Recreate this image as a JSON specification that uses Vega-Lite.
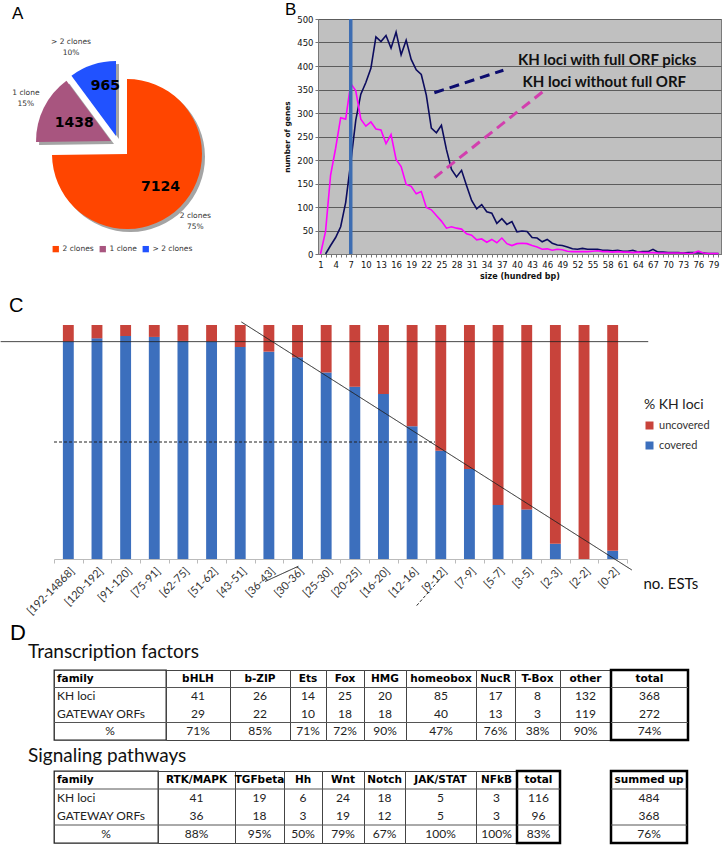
{
"$schema":"https://vega.github.io/schema/vega-lite/v6.json",
"background":"white",
"padding":0,
"autosize":{"type":"pad"},
"bounds":"full",
"spacing":0,
"resolve":{"scale":{"color":"independent","fill":"independent","stroke":"independent","opacity":"independent","strokeDash":"independent","theta":"independent"},"legend":{"color":"independent","fill":"independent"}},
"config":{"view":{"stroke":"#444","strokeWidth":1},"title":{"font":"Liberation Sans","fontWeight":"normal","color":"#000","anchor":"start","frame":"group","baseline":"alphabetic"}},
"data":{"name":"cells"},
"datasets":{
"pie":[{"cat":"2 clones","n":7124,"pct":"75%"},{"cat":"1 clone","n":1438,"pct":"15%"},{"cat":"> 2 clones","n":965,"pct":"10%"}],
"sizes":[
{"size":2,"series":"with full ORF","genes":0},{"size":3,"series":"with full ORF","genes":18},{"size":4,"series":"with full ORF","genes":35},{"size":5,"series":"with full ORF","genes":58},{"size":6,"series":"with full ORF","genes":110},{"size":7,"series":"with full ORF","genes":195},{"size":8,"series":"with full ORF","genes":285},{"size":9,"series":"with full ORF","genes":340},{"size":10,"series":"with full ORF","genes":365},{"size":11,"series":"with full ORF","genes":395},{"size":12,"series":"with full ORF","genes":462},{"size":13,"series":"with full ORF","genes":452},{"size":14,"series":"with full ORF","genes":465},{"size":15,"series":"with full ORF","genes":438},{"size":16,"series":"with full ORF","genes":472},{"size":17,"series":"with full ORF","genes":424},{"size":18,"series":"with full ORF","genes":455},{"size":19,"series":"with full ORF","genes":414},{"size":20,"series":"with full ORF","genes":392},{"size":21,"series":"with full ORF","genes":382},{"size":22,"series":"with full ORF","genes":338},{"size":23,"series":"with full ORF","genes":268},{"size":24,"series":"with full ORF","genes":258},{"size":25,"series":"with full ORF","genes":274},{"size":26,"series":"with full ORF","genes":222},{"size":27,"series":"with full ORF","genes":180},{"size":28,"series":"with full ORF","genes":164},{"size":29,"series":"with full ORF","genes":178},{"size":30,"series":"with full ORF","genes":145},{"size":31,"series":"with full ORF","genes":114},{"size":32,"series":"with full ORF","genes":96},{"size":33,"series":"with full ORF","genes":105},{"size":34,"series":"with full ORF","genes":90},{"size":35,"series":"with full ORF","genes":87},{"size":36,"series":"with full ORF","genes":65},{"size":37,"series":"with full ORF","genes":75},{"size":38,"series":"with full ORF","genes":63},{"size":39,"series":"with full ORF","genes":69},{"size":40,"series":"with full ORF","genes":47},{"size":41,"series":"with full ORF","genes":49},{"size":42,"series":"with full ORF","genes":48},{"size":43,"series":"with full ORF","genes":35},{"size":44,"series":"with full ORF","genes":34},{"size":45,"series":"with full ORF","genes":26},{"size":46,"series":"with full ORF","genes":31},{"size":47,"series":"with full ORF","genes":23},{"size":48,"series":"with full ORF","genes":19},{"size":49,"series":"with full ORF","genes":18},{"size":50,"series":"with full ORF","genes":15},{"size":51,"series":"with full ORF","genes":11},{"size":52,"series":"with full ORF","genes":10},{"size":53,"series":"with full ORF","genes":12},{"size":54,"series":"with full ORF","genes":10},{"size":55,"series":"with full ORF","genes":10},{"size":56,"series":"with full ORF","genes":10},{"size":57,"series":"with full ORF","genes":8},{"size":58,"series":"with full ORF","genes":8},{"size":59,"series":"with full ORF","genes":7},{"size":60,"series":"with full ORF","genes":8},{"size":61,"series":"with full ORF","genes":6},{"size":62,"series":"with full ORF","genes":6},{"size":63,"series":"with full ORF","genes":8},{"size":64,"series":"with full ORF","genes":4},{"size":65,"series":"with full ORF","genes":5},{"size":66,"series":"with full ORF","genes":5},{"size":67,"series":"with full ORF","genes":10},{"size":68,"series":"with full ORF","genes":4},{"size":69,"series":"with full ORF","genes":4},{"size":70,"series":"with full ORF","genes":3},{"size":71,"series":"with full ORF","genes":3},{"size":72,"series":"with full ORF","genes":3},{"size":73,"series":"with full ORF","genes":2},{"size":74,"series":"with full ORF","genes":3},{"size":75,"series":"with full ORF","genes":3},{"size":76,"series":"with full ORF","genes":2},{"size":77,"series":"with full ORF","genes":2},{"size":78,"series":"with full ORF","genes":1},{"size":79,"series":"with full ORF","genes":1},{"size":80,"series":"with full ORF","genes":1},
{"size":1,"series":"without full ORF","genes":0},{"size":2,"series":"without full ORF","genes":48},{"size":3,"series":"without full ORF","genes":168},{"size":4,"series":"without full ORF","genes":225},{"size":5,"series":"without full ORF","genes":290},{"size":6,"series":"without full ORF","genes":287},{"size":7,"series":"without full ORF","genes":363},{"size":8,"series":"without full ORF","genes":347},{"size":9,"series":"without full ORF","genes":287},{"size":10,"series":"without full ORF","genes":272},{"size":11,"series":"without full ORF","genes":281},{"size":12,"series":"without full ORF","genes":266},{"size":13,"series":"without full ORF","genes":264},{"size":14,"series":"without full ORF","genes":235},{"size":15,"series":"without full ORF","genes":254},{"size":16,"series":"without full ORF","genes":201},{"size":17,"series":"without full ORF","genes":186},{"size":18,"series":"without full ORF","genes":148},{"size":19,"series":"without full ORF","genes":144},{"size":20,"series":"without full ORF","genes":128},{"size":21,"series":"without full ORF","genes":133},{"size":22,"series":"without full ORF","genes":99},{"size":23,"series":"without full ORF","genes":94},{"size":24,"series":"without full ORF","genes":82},{"size":25,"series":"without full ORF","genes":70},{"size":26,"series":"without full ORF","genes":55},{"size":27,"series":"without full ORF","genes":58},{"size":28,"series":"without full ORF","genes":55},{"size":29,"series":"without full ORF","genes":53},{"size":30,"series":"without full ORF","genes":43},{"size":31,"series":"without full ORF","genes":40},{"size":32,"series":"without full ORF","genes":30},{"size":33,"series":"without full ORF","genes":32},{"size":34,"series":"without full ORF","genes":25},{"size":35,"series":"without full ORF","genes":31},{"size":36,"series":"without full ORF","genes":24},{"size":37,"series":"without full ORF","genes":34},{"size":38,"series":"without full ORF","genes":22},{"size":39,"series":"without full ORF","genes":18},{"size":40,"series":"without full ORF","genes":22},{"size":41,"series":"without full ORF","genes":23},{"size":42,"series":"without full ORF","genes":22},{"size":43,"series":"without full ORF","genes":18},{"size":44,"series":"without full ORF","genes":15},{"size":45,"series":"without full ORF","genes":10},{"size":46,"series":"without full ORF","genes":11},{"size":47,"series":"without full ORF","genes":8},{"size":48,"series":"without full ORF","genes":10},{"size":49,"series":"without full ORF","genes":9},{"size":50,"series":"without full ORF","genes":6},{"size":51,"series":"without full ORF","genes":5},{"size":52,"series":"without full ORF","genes":5},{"size":53,"series":"without full ORF","genes":5},{"size":54,"series":"without full ORF","genes":5},{"size":55,"series":"without full ORF","genes":6},{"size":56,"series":"without full ORF","genes":7},{"size":57,"series":"without full ORF","genes":5},{"size":58,"series":"without full ORF","genes":5},{"size":59,"series":"without full ORF","genes":4},{"size":60,"series":"without full ORF","genes":5},{"size":61,"series":"without full ORF","genes":4},{"size":62,"series":"without full ORF","genes":4},{"size":63,"series":"without full ORF","genes":3},{"size":64,"series":"without full ORF","genes":4},{"size":65,"series":"without full ORF","genes":3},{"size":66,"series":"without full ORF","genes":3},{"size":67,"series":"without full ORF","genes":3},{"size":68,"series":"without full ORF","genes":2},{"size":69,"series":"without full ORF","genes":2},{"size":70,"series":"without full ORF","genes":2},{"size":71,"series":"without full ORF","genes":2},{"size":72,"series":"without full ORF","genes":2},{"size":73,"series":"without full ORF","genes":2},{"size":74,"series":"without full ORF","genes":1},{"size":75,"series":"without full ORF","genes":2},{"size":76,"series":"without full ORF","genes":6},{"size":77,"series":"without full ORF","genes":2},{"size":78,"series":"without full ORF","genes":1},{"size":79,"series":"without full ORF","genes":1},{"size":80,"series":"without full ORF","genes":1}
],
"bdash":[{"series":"with full ORF","size":23.6,"genes":343,"size2":37.3,"genes2":391},{"series":"without full ORF","size":23.6,"genes":162,"size2":45.2,"genes2":346}],
"btext":[{"label":"KH loci with full ORF picks","size":40.2,"genes":413},{"label":"KH loci without full ORF","size":41.1,"genes":367}],
"bmark":[{"label":"cut-off","size":7,"genes":0,"genes2":500}],
"cov":[
{"ests":"[192-14868]","status":"covered","pct":92.9},{"ests":"[192-14868]","status":"uncovered","pct":7.1},
{"ests":"[120-192]","status":"covered","pct":94.3},{"ests":"[120-192]","status":"uncovered","pct":5.7},
{"ests":"[91-120]","status":"covered","pct":95.3},{"ests":"[91-120]","status":"uncovered","pct":4.7},
{"ests":"[75-91]","status":"covered","pct":94.9},{"ests":"[75-91]","status":"uncovered","pct":5.1},
{"ests":"[62-75]","status":"covered","pct":93.2},{"ests":"[62-75]","status":"uncovered","pct":6.8},
{"ests":"[51-62]","status":"covered","pct":92.9},{"ests":"[51-62]","status":"uncovered","pct":7.1},
{"ests":"[43-51]","status":"covered","pct":90.6},{"ests":"[43-51]","status":"uncovered","pct":9.4},
{"ests":"[36-43]","status":"covered","pct":88.6},{"ests":"[36-43]","status":"uncovered","pct":11.4},
{"ests":"[30-36]","status":"covered","pct":86.2},{"ests":"[30-36]","status":"uncovered","pct":13.8},
{"ests":"[25-30]","status":"covered","pct":79.7},{"ests":"[25-30]","status":"uncovered","pct":20.3},
{"ests":"[20-25]","status":"covered","pct":73.6},{"ests":"[20-25]","status":"uncovered","pct":26.4},
{"ests":"[16-20]","status":"covered","pct":70.5},{"ests":"[16-20]","status":"uncovered","pct":29.5},
{"ests":"[12-16]","status":"covered","pct":56.7},{"ests":"[12-16]","status":"uncovered","pct":43.3},
{"ests":"[9-12]","status":"covered","pct":46.3},{"ests":"[9-12]","status":"uncovered","pct":53.7},
{"ests":"[7-9]","status":"covered","pct":38.5},{"ests":"[7-9]","status":"uncovered","pct":61.5},
{"ests":"[5-7]","status":"covered","pct":23.1},{"ests":"[5-7]","status":"uncovered","pct":76.9},
{"ests":"[3-5]","status":"covered","pct":21.2},{"ests":"[3-5]","status":"uncovered","pct":78.8},
{"ests":"[2-3]","status":"covered","pct":6.5},{"ests":"[2-3]","status":"uncovered","pct":93.5},
{"ests":"[2-2]","status":"covered","pct":0},{"ests":"[2-2]","status":"uncovered","pct":100},
{"ests":"[0-2]","status":"covered","pct":3.5},{"ests":"[0-2]","status":"uncovered","pct":96.5}
],
"clines":[{"line":"diagonal","style":"solid","x":6.54,"y":101.3,"x2":20.17,"y2":-4.7},{"line":"93% level","style":"solid","x":-1.86,"y":92.9,"x2":20.74,"y2":92.9},{"line":"50% level","style":"dashed","x":0,"y":50,"x2":13.3,"y2":50},{"line":"[30-36] mark","style":"solid","x":7.37,"y":-9.6,"x2":8.53,"y2":-3.1},{"line":"[9-12] mark","style":"dashed","x":12.66,"y":-19.9,"x2":13.48,"y2":-8.5}],
"cells":[
{"t":"TF","col":"family","r":"h","v":"family"},{"t":"TF","col":"family","r":"kh","v":"KH loci"},{"t":"TF","col":"family","r":"gw","v":"GATEWAY ORFs"},{"t":"TF","col":"family","r":"pct","v":"%"},
{"t":"TF","col":"bHLH","r":"h","v":"bHLH"},{"t":"TF","col":"bHLH","r":"kh","v":"41"},{"t":"TF","col":"bHLH","r":"gw","v":"29"},{"t":"TF","col":"bHLH","r":"pct","v":"71%"},
{"t":"TF","col":"b-ZIP","r":"h","v":"b-ZIP"},{"t":"TF","col":"b-ZIP","r":"kh","v":"26"},{"t":"TF","col":"b-ZIP","r":"gw","v":"22"},{"t":"TF","col":"b-ZIP","r":"pct","v":"85%"},
{"t":"TF","col":"Ets","r":"h","v":"Ets"},{"t":"TF","col":"Ets","r":"kh","v":"14"},{"t":"TF","col":"Ets","r":"gw","v":"10"},{"t":"TF","col":"Ets","r":"pct","v":"71%"},
{"t":"TF","col":"Fox","r":"h","v":"Fox"},{"t":"TF","col":"Fox","r":"kh","v":"25"},{"t":"TF","col":"Fox","r":"gw","v":"18"},{"t":"TF","col":"Fox","r":"pct","v":"72%"},
{"t":"TF","col":"HMG","r":"h","v":"HMG"},{"t":"TF","col":"HMG","r":"kh","v":"20"},{"t":"TF","col":"HMG","r":"gw","v":"18"},{"t":"TF","col":"HMG","r":"pct","v":"90%"},
{"t":"TF","col":"homeobox","r":"h","v":"homeobox"},{"t":"TF","col":"homeobox","r":"kh","v":"85"},{"t":"TF","col":"homeobox","r":"gw","v":"40"},{"t":"TF","col":"homeobox","r":"pct","v":"47%"},
{"t":"TF","col":"NucR","r":"h","v":"NucR"},{"t":"TF","col":"NucR","r":"kh","v":"17"},{"t":"TF","col":"NucR","r":"gw","v":"13"},{"t":"TF","col":"NucR","r":"pct","v":"76%"},
{"t":"TF","col":"T-Box","r":"h","v":"T-Box"},{"t":"TF","col":"T-Box","r":"kh","v":"8"},{"t":"TF","col":"T-Box","r":"gw","v":"3"},{"t":"TF","col":"T-Box","r":"pct","v":"38%"},
{"t":"TF","col":"other","r":"h","v":"other"},{"t":"TF","col":"other","r":"kh","v":"132"},{"t":"TF","col":"other","r":"gw","v":"119"},{"t":"TF","col":"other","r":"pct","v":"90%"},
{"t":"TF","col":"total","r":"h","v":"total"},{"t":"TF","col":"total","r":"kh","v":"368"},{"t":"TF","col":"total","r":"gw","v":"272"},{"t":"TF","col":"total","r":"pct","v":"74%"},
{"t":"SP","col":"family","r":"h","v":"family"},{"t":"SP","col":"family","r":"kh","v":"KH loci"},{"t":"SP","col":"family","r":"gw","v":"GATEWAY ORFs"},{"t":"SP","col":"family","r":"pct","v":"%"},
{"t":"SP","col":"RTK/MAPK","r":"h","v":"RTK/MAPK"},{"t":"SP","col":"RTK/MAPK","r":"kh","v":"41"},{"t":"SP","col":"RTK/MAPK","r":"gw","v":"36"},{"t":"SP","col":"RTK/MAPK","r":"pct","v":"88%"},
{"t":"SP","col":"TGFbeta","r":"h","v":"TGFbeta"},{"t":"SP","col":"TGFbeta","r":"kh","v":"19"},{"t":"SP","col":"TGFbeta","r":"gw","v":"18"},{"t":"SP","col":"TGFbeta","r":"pct","v":"95%"},
{"t":"SP","col":"Hh","r":"h","v":"Hh"},{"t":"SP","col":"Hh","r":"kh","v":"6"},{"t":"SP","col":"Hh","r":"gw","v":"3"},{"t":"SP","col":"Hh","r":"pct","v":"50%"},
{"t":"SP","col":"Wnt","r":"h","v":"Wnt"},{"t":"SP","col":"Wnt","r":"kh","v":"24"},{"t":"SP","col":"Wnt","r":"gw","v":"19"},{"t":"SP","col":"Wnt","r":"pct","v":"79%"},
{"t":"SP","col":"Notch","r":"h","v":"Notch"},{"t":"SP","col":"Notch","r":"kh","v":"18"},{"t":"SP","col":"Notch","r":"gw","v":"12"},{"t":"SP","col":"Notch","r":"pct","v":"67%"},
{"t":"SP","col":"JAK/STAT","r":"h","v":"JAK/STAT"},{"t":"SP","col":"JAK/STAT","r":"kh","v":"5"},{"t":"SP","col":"JAK/STAT","r":"gw","v":"5"},{"t":"SP","col":"JAK/STAT","r":"pct","v":"100%"},
{"t":"SP","col":"NFkB","r":"h","v":"NFkB"},{"t":"SP","col":"NFkB","r":"kh","v":"3"},{"t":"SP","col":"NFkB","r":"gw","v":"3"},{"t":"SP","col":"NFkB","r":"pct","v":"100%"},
{"t":"SP","col":"total","r":"h","v":"total"},{"t":"SP","col":"total","r":"kh","v":"116"},{"t":"SP","col":"total","r":"gw","v":"96"},{"t":"SP","col":"total","r":"pct","v":"83%"},
{"t":"SUM","col":"summed up","r":"h","v":"summed up"},{"t":"SUM","col":"summed up","r":"kh","v":"484"},{"t":"SUM","col":"summed up","r":"gw","v":"368"},{"t":"SUM","col":"summed up","r":"pct","v":"76%"}
]
},
"vconcat":[
{"bounds":"flush","spacing":0,"hconcat":[
 {"width":54,"height":277,"view":{"stroke":null},"data":{"values":[]},"mark":"point"},
 {"width":146,"height":270,"view":{"stroke":null},
  "title":{"text":"A","dx":-42,"offset":-4,"fontSize":17},
  "data":{"name":"pie"},
  "encoding":{"theta":{"field":"n","type":"quantitative","stack":true},"order":{"field":"n","type":"quantitative","sort":"descending"}},
  "layer":[
   {"mark":{"type":"arc","radius":75,"fill":"#a4a4a4","xOffset":3,"yOffset":3},"encoding":{"opacity":{"condition":{"test":"datum.cat == '2 clones'","value":1},"value":0}}},
   {"mark":{"type":"arc","radius":75,"fill":"#a4a4a4","xOffset":-13,"yOffset":-10},"encoding":{"opacity":{"condition":{"test":"datum.cat == '1 clone'","value":1},"value":0}}},
   {"mark":{"type":"arc","radius":75,"fill":"#a4a4a4","xOffset":-8,"yOffset":-15},"encoding":{"opacity":{"condition":{"test":"datum.cat == '> 2 clones'","value":1},"value":0}}},
   {"mark":{"type":"arc","radius":75},"encoding":{"fill":{"field":"cat","type":"nominal","scale":{"domain":["2 clones","1 clone","> 2 clones"],"range":["#ff4500","#a8557f","#2152ff"]},"legend":{"orient":"none","legendX":52,"legendY":226,"direction":"horizontal","title":null,"symbolType":"square","symbolSize":40,"symbolOpacity":1,"symbolStrokeWidth":0,"labelFont":"DejaVu Sans","labelFontSize":7.5,"labelColor":"#333","columnPadding":5,"labelOffset":3}},"opacity":{"condition":{"test":"datum.cat == '2 clones'","value":1},"value":0}}},
   {"mark":{"type":"arc","radius":75,"xOffset":-16,"yOffset":-13},"encoding":{"fill":{"field":"cat","type":"nominal","legend":null},"opacity":{"condition":{"test":"datum.cat == '1 clone'","value":1},"value":0}}},
   {"mark":{"type":"arc","radius":75,"xOffset":-11,"yOffset":-18},"encoding":{"fill":{"field":"cat","type":"nominal","legend":null},"opacity":{"condition":{"test":"datum.cat == '> 2 clones'","value":1},"value":0}}},
   {"mark":{"type":"text","radius":47,"font":"DejaVu Sans","fontWeight":"bold","fontSize":14,"color":"#000"},"encoding":{"text":{"field":"n","type":"nominal"},"opacity":{"condition":{"test":"datum.cat == '2 clones'","value":1},"value":0}}},
   {"mark":{"type":"text","radius":41,"dx":-16,"dy":-13,"font":"DejaVu Sans","fontWeight":"bold","fontSize":14,"color":"#000"},"encoding":{"text":{"field":"n","type":"nominal"},"opacity":{"condition":{"test":"datum.cat == '1 clone'","value":1},"value":0}}},
   {"mark":{"type":"text","radius":53,"dx":-5,"dy":-18,"font":"DejaVu Sans","fontWeight":"bold","fontSize":14,"color":"#000"},"encoding":{"text":{"field":"n","type":"nominal"},"opacity":{"condition":{"test":"datum.cat == '> 2 clones'","value":1},"value":0}}},
   {"mark":{"type":"text","radius":96,"dy":-5.5,"font":"DejaVu Sans","fontSize":7.5,"color":"#333"},"encoding":{"text":{"field":"cat"},"opacity":{"condition":{"test":"datum.cat == '2 clones'","value":1},"value":0}}},
   {"mark":{"type":"text","radius":96,"dy":5.5,"font":"DejaVu Sans","fontSize":7.5,"color":"#333"},"encoding":{"text":{"field":"pct"},"opacity":{"condition":{"test":"datum.cat == '2 clones'","value":1},"value":0}}},
   {"mark":{"type":"text","radius":95,"dx":-16,"dy":-18.5,"font":"DejaVu Sans","fontSize":7.5,"color":"#333"},"encoding":{"text":{"field":"cat"},"opacity":{"condition":{"test":"datum.cat == '1 clone'","value":1},"value":0}}},
   {"mark":{"type":"text","radius":95,"dx":-16,"dy":-7.5,"font":"DejaVu Sans","fontSize":7.5,"color":"#333"},"encoding":{"text":{"field":"pct"},"opacity":{"condition":{"test":"datum.cat == '1 clone'","value":1},"value":0}}},
   {"mark":{"type":"text","radius":96,"dx":-26,"dy":-20.5,"font":"DejaVu Sans","fontSize":7.5,"color":"#333"},"encoding":{"text":{"field":"cat"},"opacity":{"condition":{"test":"datum.cat == '> 2 clones'","value":1},"value":0}}},
   {"mark":{"type":"text","radius":96,"dx":-26,"dy":-9.5,"font":"DejaVu Sans","fontSize":7.5,"color":"#333"},"encoding":{"text":{"field":"pct"},"opacity":{"condition":{"test":"datum.cat == '> 2 clones'","value":1},"value":0}}}
  ]},
 {"width":118,"height":1,"view":{"stroke":null},"data":{"values":[]},"mark":"point"},
 {"width":403,"height":235,"view":{"fill":"#c0c0c0","stroke":"#7a7a7a"},
  "title":{"text":"B","dx":-33,"offset":-4,"fontSize":17},
  "encoding":{
   "x":{"field":"size","type":"quantitative","scale":{"domain":[0.5,80.5],"nice":false,"zero":false},"axis":{"title":"size (hundred bp)","titleFont":"DejaVu Sans","titleFontSize":8,"titleFontWeight":"bold","titleColor":"#111","titlePadding":4,"tickCount":80,"labelExpr":"(datum.value - 1) % 3 == 0 ? datum.label : ''","labelFont":"DejaVu Sans","labelFontSize":8.5,"labelColor":"#111","labelPadding":3,"labelOverlap":false,"labelFlush":false,"tickSize":3,"tickColor":"#777","domainColor":"#777","grid":false}},
   "y":{"field":"genes","type":"quantitative","scale":{"domain":[0,500],"nice":false},"axis":{"title":"number of genes","titleFont":"DejaVu Sans","titleFontSize":7.5,"titleFontWeight":"bold","titleColor":"#111","titlePadding":5,"values":[0,50,100,150,200,250,300,350,400,450,500],"labelFont":"DejaVu Sans","labelFontSize":8.5,"labelColor":"#111","labelPadding":2,"tickSize":3,"tickColor":"#777","domainColor":"#777","grid":true,"gridColor":"#5c5c5c","gridWidth":1}}
  },
  "layer":[
   {"data":{"name":"sizes"},"mark":{"type":"line","strokeWidth":1.6},"encoding":{
    "color":{"field":"series","type":"nominal","scale":{"domain":["with full ORF","without full ORF"],"range":["#0c0c5e","#ff00ff"]},"legend":null}}},
   {"data":{"name":"bdash"},"mark":{"type":"rule","strokeWidth":3,"strokeDash":[10,6]},"encoding":{
    "x2":{"field":"size2"},"y2":{"field":"genes2"},
    "stroke":{"field":"series","type":"nominal","scale":{"domain":["with full ORF","without full ORF"],"range":["#0c0c6e","#d23fae"]},"legend":null}}},
   {"data":{"name":"btext"},"mark":{"type":"text","align":"left","baseline":"middle","font":"Lato","fontWeight":"bold","fontSize":15,"color":"#111"},"encoding":{
    "text":{"field":"label"}}},
   {"data":{"name":"bmark"},"mark":{"type":"rule","color":"#3d6db2","strokeWidth":3.5},"encoding":{"y2":{"field":"genes2"}}}
  ]}
]},
{"bounds":"flush","spacing":0,"hconcat":[
 {"width":54,"height":296,"view":{"stroke":null},"data":{"values":[]},"mark":"point"},
 {"width":573,"height":234,"view":{"stroke":null},
  "title":{"text":"C","dx":-45,"offset":5,"fontSize":20},
  "layer":[
   {"data":{"name":"cov"},"mark":{"type":"bar","width":{"band":0.38}},"encoding":{
    "x":{"field":"ests","type":"nominal","sort":null,"scale":{"paddingInner":0,"paddingOuter":0},"axis":{"title":"no. ESTs","titleX":589,"titleY":24,"titleAngle":0,"titleAlign":"left","titleBaseline":"middle","titleFont":"Lato","titleFontSize":15,"titleFontWeight":"normal","titleColor":"#111","labelAngle":-45,"labelFont":"Lato","labelFontSize":11,"labelColor":"#333","tickBand":"extent","tickSize":4,"domainColor":"#bbb","tickColor":"#bbb","labelPadding":2}},
    "y":{"field":"pct","type":"quantitative","stack":"zero","scale":{"domain":[0,100],"nice":false},"axis":{"values":[0,10,20,30,40,50,60,70,80,90,100],"labelExpr":"datum.value + '%'","title":null,"grid":true,"gridColor":"#dedede","domainColor":"#bbb","tickColor":"#bbb","tickSize":4,"labelFont":"Lato","labelFontSize":11,"labelColor":"#333","labelPadding":3}},
    "order":{"field":"status","type":"nominal","sort":"ascending"},
    "color":{"field":"status","type":"nominal","scale":{"domain":["covered","uncovered"],"range":["#3c6fbd","#c8433b"]},"legend":{"values":["uncovered","covered"],"orient":"none","legendX":644,"legendY":73,"title":"% KH loci","titleFont":"Lato","titleFontSize":14,"titleFontWeight":"normal","titleColor":"#222","titlePadding":8,"labelFont":"Lato","labelFontSize":11,"labelColor":"#333","symbolType":"square","symbolSize":64,"symbolStrokeWidth":0,"rowPadding":8}}}},
   {"data":{"name":"clines"},"mark":{"type":"rule","color":"#222","strokeWidth":1,"clip":false},"encoding":{
    "x":{"field":"x","type":"quantitative","scale":{"domain":[0,20],"nice":false,"zero":false},"axis":null},"x2":{"field":"x2"},
    "y":{"field":"y","type":"quantitative","scale":{"domain":[0,100],"nice":false},"axis":null},"y2":{"field":"y2"},
    "strokeDash":{"field":"style","type":"nominal","scale":{"domain":["solid","dashed"],"range":[[1,0],[3,2]]},"legend":null}}}
  ],
  "resolve":{"scale":{"x":"independent"}}}
]},
{"bounds":"flush","spacing":0,"hconcat":[
 {"width":54,"height":75.3,"view":{"stroke":null},"data":{"values":[]},"mark":"point"},
 {"width":112,"height":70,"view":{"stroke":"#222","strokeWidth":1.3},"title":{"text":"D","dx":-44,"offset":24.6,"fontSize":22},"transform":[{"filter":"datum.t=='TF'&&datum.col=='family'"}],"encoding":{"y":{"field":"r","type":"nominal","scale":{"type":"band","domain":["h","kh","gw","pct"],"paddingInner":0,"paddingOuter":0},"axis":null}},"layer":[
  {"transform":[{"filter":"datum.r=='kh'||datum.r=='pct'"}],"mark":{"type":"rule","color":"#555"},"encoding":{"y":{"field":"r","type":"nominal","bandPosition":0,"scale":{"type":"band","domain":["h","kh","gw","pct"],"paddingInner":0,"paddingOuter":0},"axis":null}}},
  {"transform":[{"filter":"datum.r=='h'"}],"mark":{"type":"text","align":"left","dx":-53,"font":"DejaVu Sans","fontWeight":"bold","fontSize":10.5,"color":"#000"},"encoding":{"text":{"field":"v"}}},
  {"transform":[{"filter":"datum.r=='kh'||datum.r=='gw'"}],"mark":{"type":"text","align":"left","dx":-53,"font":"Lato","fontSize":12,"color":"#222"},"encoding":{"text":{"field":"v"}}},
  {"transform":[{"filter":"datum.r=='pct'"}],"mark":{"type":"text","font":"Lato","fontSize":12,"color":"#222"},"encoding":{"text":{"field":"v"}}}]},
 {"width":64,"height":70,"title":{"text":"Transcription factors","dx":-138,"offset":8.2,"font":"Lato","fontSize":19,"color":"#111"},"transform":[{"filter":"datum.t=='TF'&&datum.col=='bHLH'"}],"encoding":{"y":{"field":"r","type":"nominal","scale":{"type":"band","domain":["h","kh","gw","pct"],"paddingInner":0,"paddingOuter":0},"axis":null}},"layer":[
  {"transform":[{"filter":"datum.r=='kh'||datum.r=='pct'"}],"mark":{"type":"rule","color":"#555"},"encoding":{"y":{"field":"r","type":"nominal","bandPosition":0,"scale":{"type":"band","domain":["h","kh","gw","pct"],"paddingInner":0,"paddingOuter":0},"axis":null}}},
  {"transform":[{"filter":"datum.r=='h'"}],"mark":{"type":"text","font":"DejaVu Sans","fontWeight":"bold","fontSize":10.5,"color":"#000"},"encoding":{"text":{"field":"v"}}},
  {"transform":[{"filter":"datum.r!='h'"}],"mark":{"type":"text","font":"Lato","fontSize":12,"color":"#222"},"encoding":{"text":{"field":"v"}}}]},
 {"width":60,"height":70,"transform":[{"filter":"datum.t=='TF'&&datum.col=='b-ZIP'"}],"encoding":{"y":{"field":"r","type":"nominal","scale":{"type":"band","domain":["h","kh","gw","pct"],"paddingInner":0,"paddingOuter":0},"axis":null}},"layer":[
  {"transform":[{"filter":"datum.r=='kh'||datum.r=='pct'"}],"mark":{"type":"rule","color":"#555"},"encoding":{"y":{"field":"r","type":"nominal","bandPosition":0,"scale":{"type":"band","domain":["h","kh","gw","pct"],"paddingInner":0,"paddingOuter":0},"axis":null}}},
  {"transform":[{"filter":"datum.r=='h'"}],"mark":{"type":"text","font":"DejaVu Sans","fontWeight":"bold","fontSize":10.5,"color":"#000"},"encoding":{"text":{"field":"v"}}},
  {"transform":[{"filter":"datum.r!='h'"}],"mark":{"type":"text","font":"Lato","fontSize":12,"color":"#222"},"encoding":{"text":{"field":"v"}}}]},
 {"width":36,"height":70,"transform":[{"filter":"datum.t=='TF'&&datum.col=='Ets'"}],"encoding":{"y":{"field":"r","type":"nominal","scale":{"type":"band","domain":["h","kh","gw","pct"],"paddingInner":0,"paddingOuter":0},"axis":null}},"layer":[
  {"transform":[{"filter":"datum.r=='kh'||datum.r=='pct'"}],"mark":{"type":"rule","color":"#555"},"encoding":{"y":{"field":"r","type":"nominal","bandPosition":0,"scale":{"type":"band","domain":["h","kh","gw","pct"],"paddingInner":0,"paddingOuter":0},"axis":null}}},
  {"transform":[{"filter":"datum.r=='h'"}],"mark":{"type":"text","font":"DejaVu Sans","fontWeight":"bold","fontSize":10.5,"color":"#000"},"encoding":{"text":{"field":"v"}}},
  {"transform":[{"filter":"datum.r!='h'"}],"mark":{"type":"text","font":"Lato","fontSize":12,"color":"#222"},"encoding":{"text":{"field":"v"}}}]},
 {"width":38,"height":70,"transform":[{"filter":"datum.t=='TF'&&datum.col=='Fox'"}],"encoding":{"y":{"field":"r","type":"nominal","scale":{"type":"band","domain":["h","kh","gw","pct"],"paddingInner":0,"paddingOuter":0},"axis":null}},"layer":[
  {"transform":[{"filter":"datum.r=='kh'||datum.r=='pct'"}],"mark":{"type":"rule","color":"#555"},"encoding":{"y":{"field":"r","type":"nominal","bandPosition":0,"scale":{"type":"band","domain":["h","kh","gw","pct"],"paddingInner":0,"paddingOuter":0},"axis":null}}},
  {"transform":[{"filter":"datum.r=='h'"}],"mark":{"type":"text","font":"DejaVu Sans","fontWeight":"bold","fontSize":10.5,"color":"#000"},"encoding":{"text":{"field":"v"}}},
  {"transform":[{"filter":"datum.r!='h'"}],"mark":{"type":"text","font":"Lato","fontSize":12,"color":"#222"},"encoding":{"text":{"field":"v"}}}]},
 {"width":42,"height":70,"transform":[{"filter":"datum.t=='TF'&&datum.col=='HMG'"}],"encoding":{"y":{"field":"r","type":"nominal","scale":{"type":"band","domain":["h","kh","gw","pct"],"paddingInner":0,"paddingOuter":0},"axis":null}},"layer":[
  {"transform":[{"filter":"datum.r=='kh'||datum.r=='pct'"}],"mark":{"type":"rule","color":"#555"},"encoding":{"y":{"field":"r","type":"nominal","bandPosition":0,"scale":{"type":"band","domain":["h","kh","gw","pct"],"paddingInner":0,"paddingOuter":0},"axis":null}}},
  {"transform":[{"filter":"datum.r=='h'"}],"mark":{"type":"text","font":"DejaVu Sans","fontWeight":"bold","fontSize":10.5,"color":"#000"},"encoding":{"text":{"field":"v"}}},
  {"transform":[{"filter":"datum.r!='h'"}],"mark":{"type":"text","font":"Lato","fontSize":12,"color":"#222"},"encoding":{"text":{"field":"v"}}}]},
 {"width":70,"height":70,"transform":[{"filter":"datum.t=='TF'&&datum.col=='homeobox'"}],"encoding":{"y":{"field":"r","type":"nominal","scale":{"type":"band","domain":["h","kh","gw","pct"],"paddingInner":0,"paddingOuter":0},"axis":null}},"layer":[
  {"transform":[{"filter":"datum.r=='kh'||datum.r=='pct'"}],"mark":{"type":"rule","color":"#555"},"encoding":{"y":{"field":"r","type":"nominal","bandPosition":0,"scale":{"type":"band","domain":["h","kh","gw","pct"],"paddingInner":0,"paddingOuter":0},"axis":null}}},
  {"transform":[{"filter":"datum.r=='h'"}],"mark":{"type":"text","font":"DejaVu Sans","fontWeight":"bold","fontSize":10.5,"color":"#000"},"encoding":{"text":{"field":"v"}}},
  {"transform":[{"filter":"datum.r!='h'"}],"mark":{"type":"text","font":"Lato","fontSize":12,"color":"#222"},"encoding":{"text":{"field":"v"}}}]},
 {"width":39,"height":70,"transform":[{"filter":"datum.t=='TF'&&datum.col=='NucR'"}],"encoding":{"y":{"field":"r","type":"nominal","scale":{"type":"band","domain":["h","kh","gw","pct"],"paddingInner":0,"paddingOuter":0},"axis":null}},"layer":[
  {"transform":[{"filter":"datum.r=='kh'||datum.r=='pct'"}],"mark":{"type":"rule","color":"#555"},"encoding":{"y":{"field":"r","type":"nominal","bandPosition":0,"scale":{"type":"band","domain":["h","kh","gw","pct"],"paddingInner":0,"paddingOuter":0},"axis":null}}},
  {"transform":[{"filter":"datum.r=='h'"}],"mark":{"type":"text","font":"DejaVu Sans","fontWeight":"bold","fontSize":10.5,"color":"#000"},"encoding":{"text":{"field":"v"}}},
  {"transform":[{"filter":"datum.r!='h'"}],"mark":{"type":"text","font":"Lato","fontSize":12,"color":"#222"},"encoding":{"text":{"field":"v"}}}]},
 {"width":45,"height":70,"transform":[{"filter":"datum.t=='TF'&&datum.col=='T-Box'"}],"encoding":{"y":{"field":"r","type":"nominal","scale":{"type":"band","domain":["h","kh","gw","pct"],"paddingInner":0,"paddingOuter":0},"axis":null}},"layer":[
  {"transform":[{"filter":"datum.r=='kh'||datum.r=='pct'"}],"mark":{"type":"rule","color":"#555"},"encoding":{"y":{"field":"r","type":"nominal","bandPosition":0,"scale":{"type":"band","domain":["h","kh","gw","pct"],"paddingInner":0,"paddingOuter":0},"axis":null}}},
  {"transform":[{"filter":"datum.r=='h'"}],"mark":{"type":"text","font":"DejaVu Sans","fontWeight":"bold","fontSize":10.5,"color":"#000"},"encoding":{"text":{"field":"v"}}},
  {"transform":[{"filter":"datum.r!='h'"}],"mark":{"type":"text","font":"Lato","fontSize":12,"color":"#222"},"encoding":{"text":{"field":"v"}}}]},
 {"width":51,"height":70,"transform":[{"filter":"datum.t=='TF'&&datum.col=='other'"}],"encoding":{"y":{"field":"r","type":"nominal","scale":{"type":"band","domain":["h","kh","gw","pct"],"paddingInner":0,"paddingOuter":0},"axis":null}},"layer":[
  {"transform":[{"filter":"datum.r=='kh'||datum.r=='pct'"}],"mark":{"type":"rule","color":"#555"},"encoding":{"y":{"field":"r","type":"nominal","bandPosition":0,"scale":{"type":"band","domain":["h","kh","gw","pct"],"paddingInner":0,"paddingOuter":0},"axis":null}}},
  {"transform":[{"filter":"datum.r=='h'"}],"mark":{"type":"text","font":"DejaVu Sans","fontWeight":"bold","fontSize":10.5,"color":"#000"},"encoding":{"text":{"field":"v"}}},
  {"transform":[{"filter":"datum.r!='h'"}],"mark":{"type":"text","font":"Lato","fontSize":12,"color":"#222"},"encoding":{"text":{"field":"v"}}}]},
 {"width":77,"height":70,"view":{"stroke":"#000","strokeWidth":2.5},"transform":[{"filter":"datum.t=='TF'&&datum.col=='total'"}],"encoding":{"y":{"field":"r","type":"nominal","scale":{"type":"band","domain":["h","kh","gw","pct"],"paddingInner":0,"paddingOuter":0},"axis":null}},"layer":[
  {"transform":[{"filter":"datum.r=='kh'||datum.r=='pct'"}],"mark":{"type":"rule","color":"#555"},"encoding":{"y":{"field":"r","type":"nominal","bandPosition":0,"scale":{"type":"band","domain":["h","kh","gw","pct"],"paddingInner":0,"paddingOuter":0},"axis":null}}},
  {"transform":[{"filter":"datum.r=='h'"}],"mark":{"type":"text","font":"DejaVu Sans","fontWeight":"bold","fontSize":10.5,"color":"#000"},"encoding":{"text":{"field":"v"}}},
  {"transform":[{"filter":"datum.r!='h'"}],"mark":{"type":"text","font":"Lato","fontSize":12,"color":"#222"},"encoding":{"text":{"field":"v"}}}]}
]},
{"bounds":"flush","spacing":0,"hconcat":[
 {"width":54,"height":1,"view":{"stroke":null},"data":{"values":[]},"mark":"point"},
 {"width":104,"height":72,"view":{"stroke":"#222","strokeWidth":1.3},"title":{"text":"Signaling pathways","dx":-26,"offset":4.6,"font":"Lato","fontSize":19,"color":"#111"},"transform":[{"filter":"datum.t=='SP'&&datum.col=='family'"}],"encoding":{"y":{"field":"r","type":"nominal","scale":{"type":"band","domain":["h","kh","gw","pct"],"paddingInner":0,"paddingOuter":0},"axis":null}},"layer":[
  {"transform":[{"filter":"datum.r=='kh'||datum.r=='pct'"}],"mark":{"type":"rule","color":"#555"},"encoding":{"y":{"field":"r","type":"nominal","bandPosition":0,"scale":{"type":"band","domain":["h","kh","gw","pct"],"paddingInner":0,"paddingOuter":0},"axis":null}}},
  {"transform":[{"filter":"datum.r=='h'"}],"mark":{"type":"text","align":"left","dx":-49,"font":"DejaVu Sans","fontWeight":"bold","fontSize":10.5,"color":"#000"},"encoding":{"text":{"field":"v"}}},
  {"transform":[{"filter":"datum.r=='kh'||datum.r=='gw'"}],"mark":{"type":"text","align":"left","dx":-49,"font":"Lato","fontSize":12,"color":"#222"},"encoding":{"text":{"field":"v"}}},
  {"transform":[{"filter":"datum.r=='pct'"}],"mark":{"type":"text","font":"Lato","fontSize":12,"color":"#222"},"encoding":{"text":{"field":"v"}}}]},
 {"width":77,"height":72,"transform":[{"filter":"datum.t=='SP'&&datum.col=='RTK/MAPK'"}],"encoding":{"y":{"field":"r","type":"nominal","scale":{"type":"band","domain":["h","kh","gw","pct"],"paddingInner":0,"paddingOuter":0},"axis":null}},"layer":[
  {"transform":[{"filter":"datum.r=='kh'||datum.r=='pct'"}],"mark":{"type":"rule","color":"#555"},"encoding":{"y":{"field":"r","type":"nominal","bandPosition":0,"scale":{"type":"band","domain":["h","kh","gw","pct"],"paddingInner":0,"paddingOuter":0},"axis":null}}},
  {"transform":[{"filter":"datum.r=='h'"}],"mark":{"type":"text","font":"DejaVu Sans","fontWeight":"bold","fontSize":10.5,"color":"#000"},"encoding":{"text":{"field":"v"}}},
  {"transform":[{"filter":"datum.r!='h'"}],"mark":{"type":"text","font":"Lato","fontSize":12,"color":"#222"},"encoding":{"text":{"field":"v"}}}]},
 {"width":49,"height":72,"transform":[{"filter":"datum.t=='SP'&&datum.col=='TGFbeta'"}],"encoding":{"y":{"field":"r","type":"nominal","scale":{"type":"band","domain":["h","kh","gw","pct"],"paddingInner":0,"paddingOuter":0},"axis":null}},"layer":[
  {"transform":[{"filter":"datum.r=='kh'||datum.r=='pct'"}],"mark":{"type":"rule","color":"#555"},"encoding":{"y":{"field":"r","type":"nominal","bandPosition":0,"scale":{"type":"band","domain":["h","kh","gw","pct"],"paddingInner":0,"paddingOuter":0},"axis":null}}},
  {"transform":[{"filter":"datum.r=='h'"}],"mark":{"type":"text","font":"DejaVu Sans","fontWeight":"bold","fontSize":10.5,"color":"#000"},"encoding":{"text":{"field":"v"}}},
  {"transform":[{"filter":"datum.r!='h'"}],"mark":{"type":"text","font":"Lato","fontSize":12,"color":"#222"},"encoding":{"text":{"field":"v"}}}]},
 {"width":38,"height":72,"transform":[{"filter":"datum.t=='SP'&&datum.col=='Hh'"}],"encoding":{"y":{"field":"r","type":"nominal","scale":{"type":"band","domain":["h","kh","gw","pct"],"paddingInner":0,"paddingOuter":0},"axis":null}},"layer":[
  {"transform":[{"filter":"datum.r=='kh'||datum.r=='pct'"}],"mark":{"type":"rule","color":"#555"},"encoding":{"y":{"field":"r","type":"nominal","bandPosition":0,"scale":{"type":"band","domain":["h","kh","gw","pct"],"paddingInner":0,"paddingOuter":0},"axis":null}}},
  {"transform":[{"filter":"datum.r=='h'"}],"mark":{"type":"text","font":"DejaVu Sans","fontWeight":"bold","fontSize":10.5,"color":"#000"},"encoding":{"text":{"field":"v"}}},
  {"transform":[{"filter":"datum.r!='h'"}],"mark":{"type":"text","font":"Lato","fontSize":12,"color":"#222"},"encoding":{"text":{"field":"v"}}}]},
 {"width":42,"height":72,"transform":[{"filter":"datum.t=='SP'&&datum.col=='Wnt'"}],"encoding":{"y":{"field":"r","type":"nominal","scale":{"type":"band","domain":["h","kh","gw","pct"],"paddingInner":0,"paddingOuter":0},"axis":null}},"layer":[
  {"transform":[{"filter":"datum.r=='kh'||datum.r=='pct'"}],"mark":{"type":"rule","color":"#555"},"encoding":{"y":{"field":"r","type":"nominal","bandPosition":0,"scale":{"type":"band","domain":["h","kh","gw","pct"],"paddingInner":0,"paddingOuter":0},"axis":null}}},
  {"transform":[{"filter":"datum.r=='h'"}],"mark":{"type":"text","font":"DejaVu Sans","fontWeight":"bold","fontSize":10.5,"color":"#000"},"encoding":{"text":{"field":"v"}}},
  {"transform":[{"filter":"datum.r!='h'"}],"mark":{"type":"text","font":"Lato","fontSize":12,"color":"#222"},"encoding":{"text":{"field":"v"}}}]},
 {"width":41,"height":72,"transform":[{"filter":"datum.t=='SP'&&datum.col=='Notch'"}],"encoding":{"y":{"field":"r","type":"nominal","scale":{"type":"band","domain":["h","kh","gw","pct"],"paddingInner":0,"paddingOuter":0},"axis":null}},"layer":[
  {"transform":[{"filter":"datum.r=='kh'||datum.r=='pct'"}],"mark":{"type":"rule","color":"#555"},"encoding":{"y":{"field":"r","type":"nominal","bandPosition":0,"scale":{"type":"band","domain":["h","kh","gw","pct"],"paddingInner":0,"paddingOuter":0},"axis":null}}},
  {"transform":[{"filter":"datum.r=='h'"}],"mark":{"type":"text","font":"DejaVu Sans","fontWeight":"bold","fontSize":10.5,"color":"#000"},"encoding":{"text":{"field":"v"}}},
  {"transform":[{"filter":"datum.r!='h'"}],"mark":{"type":"text","font":"Lato","fontSize":12,"color":"#222"},"encoding":{"text":{"field":"v"}}}]},
 {"width":71,"height":72,"transform":[{"filter":"datum.t=='SP'&&datum.col=='JAK/STAT'"}],"encoding":{"y":{"field":"r","type":"nominal","scale":{"type":"band","domain":["h","kh","gw","pct"],"paddingInner":0,"paddingOuter":0},"axis":null}},"layer":[
  {"transform":[{"filter":"datum.r=='kh'||datum.r=='pct'"}],"mark":{"type":"rule","color":"#555"},"encoding":{"y":{"field":"r","type":"nominal","bandPosition":0,"scale":{"type":"band","domain":["h","kh","gw","pct"],"paddingInner":0,"paddingOuter":0},"axis":null}}},
  {"transform":[{"filter":"datum.r=='h'"}],"mark":{"type":"text","font":"DejaVu Sans","fontWeight":"bold","fontSize":10.5,"color":"#000"},"encoding":{"text":{"field":"v"}}},
  {"transform":[{"filter":"datum.r!='h'"}],"mark":{"type":"text","font":"Lato","fontSize":12,"color":"#222"},"encoding":{"text":{"field":"v"}}}]},
 {"width":41,"height":72,"transform":[{"filter":"datum.t=='SP'&&datum.col=='NFkB'"}],"encoding":{"y":{"field":"r","type":"nominal","scale":{"type":"band","domain":["h","kh","gw","pct"],"paddingInner":0,"paddingOuter":0},"axis":null}},"layer":[
  {"transform":[{"filter":"datum.r=='kh'||datum.r=='pct'"}],"mark":{"type":"rule","color":"#555"},"encoding":{"y":{"field":"r","type":"nominal","bandPosition":0,"scale":{"type":"band","domain":["h","kh","gw","pct"],"paddingInner":0,"paddingOuter":0},"axis":null}}},
  {"transform":[{"filter":"datum.r=='h'"}],"mark":{"type":"text","font":"DejaVu Sans","fontWeight":"bold","fontSize":10.5,"color":"#000"},"encoding":{"text":{"field":"v"}}},
  {"transform":[{"filter":"datum.r!='h'"}],"mark":{"type":"text","font":"Lato","fontSize":12,"color":"#222"},"encoding":{"text":{"field":"v"}}}]},
 {"width":43,"height":72,"view":{"stroke":"#000","strokeWidth":2.5},"transform":[{"filter":"datum.t=='SP'&&datum.col=='total'"}],"encoding":{"y":{"field":"r","type":"nominal","scale":{"type":"band","domain":["h","kh","gw","pct"],"paddingInner":0,"paddingOuter":0},"axis":null}},"layer":[
  {"transform":[{"filter":"datum.r=='kh'||datum.r=='pct'"}],"mark":{"type":"rule","color":"#555"},"encoding":{"y":{"field":"r","type":"nominal","bandPosition":0,"scale":{"type":"band","domain":["h","kh","gw","pct"],"paddingInner":0,"paddingOuter":0},"axis":null}}},
  {"transform":[{"filter":"datum.r=='h'"}],"mark":{"type":"text","font":"DejaVu Sans","fontWeight":"bold","fontSize":10.5,"color":"#000"},"encoding":{"text":{"field":"v"}}},
  {"transform":[{"filter":"datum.r!='h'"}],"mark":{"type":"text","font":"Lato","fontSize":12,"color":"#222"},"encoding":{"text":{"field":"v"}}}]},
 {"width":51,"height":1,"view":{"stroke":null},"data":{"values":[]},"mark":"point"},
 {"width":76,"height":72,"view":{"stroke":"#000","strokeWidth":2.5},"transform":[{"filter":"datum.t=='SUM'"}],"encoding":{"y":{"field":"r","type":"nominal","scale":{"type":"band","domain":["h","kh","gw","pct"],"paddingInner":0,"paddingOuter":0},"axis":null}},"layer":[
  {"transform":[{"filter":"datum.r=='kh'||datum.r=='pct'"}],"mark":{"type":"rule","color":"#555"},"encoding":{"y":{"field":"r","type":"nominal","bandPosition":0,"scale":{"type":"band","domain":["h","kh","gw","pct"],"paddingInner":0,"paddingOuter":0},"axis":null}}},
  {"transform":[{"filter":"datum.r=='h'"}],"mark":{"type":"text","font":"DejaVu Sans","fontWeight":"bold","fontSize":10.5,"color":"#000"},"encoding":{"text":{"field":"v"}}},
  {"transform":[{"filter":"datum.r!='h'"}],"mark":{"type":"text","font":"Lato","fontSize":12,"color":"#222"},"encoding":{"text":{"field":"v"}}}]}
]}
]
}
